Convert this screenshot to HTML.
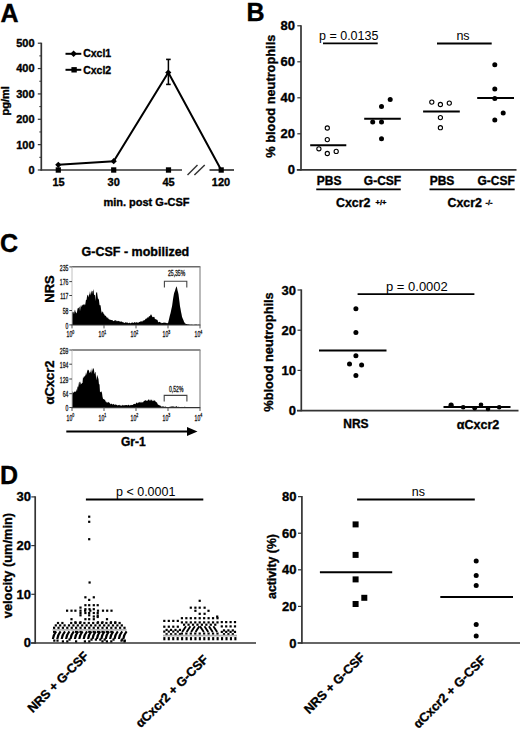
<!DOCTYPE html>
<html><head><meta charset="utf-8"><style>
html,body{margin:0;padding:0;background:#fff;}
body{width:520px;height:730px;overflow:hidden;}
svg{display:block;font-family:"Liberation Sans", sans-serif;}
</style></head><body>
<svg width="520" height="730" viewBox="0 0 520 730">
<rect width="520" height="730" fill="#fff"/>
<text x="0.50" y="22.20" font-size="25" font-weight="bold" text-anchor="start" fill="#000" stroke="#000" stroke-width="0.35" >A</text>
<line x1="41.30" y1="42.70" x2="41.30" y2="170.60" stroke="#333" stroke-width="1.7"/>
<line x1="37.80" y1="170.00" x2="41.30" y2="170.00" stroke="#333" stroke-width="1.2"/>
<text x="34.60" y="173.90" font-size="11" font-weight="bold" text-anchor="end" fill="#000" stroke="#000" stroke-width="0.35" >0</text>
<line x1="37.80" y1="144.64" x2="41.30" y2="144.64" stroke="#333" stroke-width="1.2"/>
<text x="34.60" y="148.54" font-size="11" font-weight="bold" text-anchor="end" fill="#000" stroke="#000" stroke-width="0.35" >100</text>
<line x1="37.80" y1="119.28" x2="41.30" y2="119.28" stroke="#333" stroke-width="1.2"/>
<text x="34.60" y="123.18" font-size="11" font-weight="bold" text-anchor="end" fill="#000" stroke="#000" stroke-width="0.35" >200</text>
<line x1="37.80" y1="93.92" x2="41.30" y2="93.92" stroke="#333" stroke-width="1.2"/>
<text x="34.60" y="97.82" font-size="11" font-weight="bold" text-anchor="end" fill="#000" stroke="#000" stroke-width="0.35" >300</text>
<line x1="37.80" y1="68.56" x2="41.30" y2="68.56" stroke="#333" stroke-width="1.2"/>
<text x="34.60" y="72.46" font-size="11" font-weight="bold" text-anchor="end" fill="#000" stroke="#000" stroke-width="0.35" >400</text>
<line x1="37.80" y1="43.20" x2="41.30" y2="43.20" stroke="#333" stroke-width="1.2"/>
<text x="34.60" y="47.10" font-size="11" font-weight="bold" text-anchor="end" fill="#000" stroke="#000" stroke-width="0.35" >500</text>
<line x1="39.30" y1="157.32" x2="41.30" y2="157.32" stroke="#333" stroke-width="1.0"/>
<line x1="39.30" y1="131.96" x2="41.30" y2="131.96" stroke="#333" stroke-width="1.0"/>
<line x1="39.30" y1="106.60" x2="41.30" y2="106.60" stroke="#333" stroke-width="1.0"/>
<line x1="39.30" y1="81.24" x2="41.30" y2="81.24" stroke="#333" stroke-width="1.0"/>
<line x1="39.30" y1="55.88" x2="41.30" y2="55.88" stroke="#333" stroke-width="1.0"/>
<line x1="40.60" y1="170.00" x2="182.00" y2="170.00" stroke="#333" stroke-width="1.7"/>
<line x1="209.50" y1="170.00" x2="234.00" y2="170.00" stroke="#333" stroke-width="1.7"/>
<line x1="187.50" y1="175.00" x2="197.50" y2="165.00" stroke="#333" stroke-width="1.5"/>
<line x1="194.40" y1="175.00" x2="204.75" y2="165.00" stroke="#333" stroke-width="1.5"/>
<text x="58.50" y="185.80" font-size="11" font-weight="bold" text-anchor="middle" fill="#000" stroke="#000" stroke-width="0.35" >15</text>
<text x="113.70" y="185.80" font-size="11" font-weight="bold" text-anchor="middle" fill="#000" stroke="#000" stroke-width="0.35" >30</text>
<text x="168.50" y="185.80" font-size="11" font-weight="bold" text-anchor="middle" fill="#000" stroke="#000" stroke-width="0.35" >45</text>
<text x="221.00" y="185.80" font-size="11" font-weight="bold" text-anchor="middle" fill="#000" stroke="#000" stroke-width="0.35" >120</text>
<text x="103.40" y="205.80" font-size="11" font-weight="bold" text-anchor="start" fill="#000" stroke="#000" stroke-width="0.35" >min. post G-CSF</text>
<text transform="translate(8.90,100.80) rotate(-90)" font-size="11" font-weight="bold" text-anchor="middle" stroke="#000" stroke-width="0.35" >pg/ml</text>
<polyline points="58.3,164.8 113.7,161.2 168.3,72.5 221.2,170" fill="none" stroke="#000" stroke-width="2"/>
<line x1="168.40" y1="59.40" x2="168.40" y2="84.40" stroke="#000" stroke-width="1.5"/>
<line x1="166.10" y1="59.40" x2="170.70" y2="59.40" stroke="#000" stroke-width="1.6"/>
<line x1="166.10" y1="84.40" x2="170.70" y2="84.40" stroke="#000" stroke-width="1.6"/>
<polygon points="58.3,161.70000000000002 61.4,164.8 58.3,167.9 55.199999999999996,164.8" fill="#000"/>
<polygon points="113.7,158.1 116.8,161.2 113.7,164.29999999999998 110.60000000000001,161.2" fill="#000"/>
<polygon points="168.3,69.4 171.4,72.5 168.3,75.6 165.20000000000002,72.5" fill="#000"/>
<rect x="55.70" y="167.30" width="5.20" height="5.40" fill="#000"/>
<rect x="111.10" y="167.30" width="5.20" height="5.40" fill="#000"/>
<rect x="165.90" y="167.30" width="5.20" height="5.40" fill="#000"/>
<rect x="218.60" y="167.30" width="5.20" height="5.40" fill="#000"/>
<line x1="65.50" y1="53.80" x2="81.30" y2="53.80" stroke="#000" stroke-width="2"/>
<polygon points="73.6,50.5 76.89999999999999,53.8 73.6,57.099999999999994 70.3,53.8" fill="#000"/>
<text x="83.20" y="57.30" font-size="10.5" font-weight="bold" text-anchor="start" fill="#000" stroke="#000" stroke-width="0.35" >Cxcl1</text>
<line x1="65.50" y1="69.80" x2="81.30" y2="69.80" stroke="#000" stroke-width="2"/>
<rect x="71.40" y="67.10" width="5.40" height="5.40" fill="#000"/>
<text x="83.20" y="74.20" font-size="10.5" font-weight="bold" text-anchor="start" fill="#000" stroke="#000" stroke-width="0.35" >Cxcl2</text>
<text x="246.50" y="20.80" font-size="25" font-weight="bold" text-anchor="start" fill="#000" stroke="#000" stroke-width="0.35" >B</text>
<line x1="301.00" y1="25.20" x2="301.00" y2="170.50" stroke="#333" stroke-width="1.7"/>
<line x1="296.80" y1="169.80" x2="516.50" y2="169.80" stroke="#333" stroke-width="1.7"/>
<line x1="297.30" y1="169.80" x2="301.00" y2="169.80" stroke="#333" stroke-width="1.2"/>
<text x="295.00" y="174.40" font-size="13" font-weight="bold" text-anchor="end" fill="#000" stroke="#000" stroke-width="0.35" >0</text>
<line x1="297.30" y1="133.80" x2="301.00" y2="133.80" stroke="#333" stroke-width="1.2"/>
<text x="295.00" y="138.40" font-size="13" font-weight="bold" text-anchor="end" fill="#000" stroke="#000" stroke-width="0.35" >20</text>
<line x1="297.30" y1="97.80" x2="301.00" y2="97.80" stroke="#333" stroke-width="1.2"/>
<text x="295.00" y="102.40" font-size="13" font-weight="bold" text-anchor="end" fill="#000" stroke="#000" stroke-width="0.35" >40</text>
<line x1="297.30" y1="61.80" x2="301.00" y2="61.80" stroke="#333" stroke-width="1.2"/>
<text x="295.00" y="66.40" font-size="13" font-weight="bold" text-anchor="end" fill="#000" stroke="#000" stroke-width="0.35" >60</text>
<line x1="297.30" y1="25.80" x2="301.00" y2="25.80" stroke="#333" stroke-width="1.2"/>
<text x="295.00" y="30.40" font-size="13" font-weight="bold" text-anchor="end" fill="#000" stroke="#000" stroke-width="0.35" >80</text>
<text transform="translate(274.90,96.20) rotate(-90)" font-size="12.8" font-weight="bold" text-anchor="middle" stroke="#000" stroke-width="0.35" >% blood neutrophils</text>
<circle cx="327.30" cy="128.00" r="2.1" fill="#fff" stroke="#000" stroke-width="1.1"/>
<circle cx="327.30" cy="139.60" r="2.1" fill="#fff" stroke="#000" stroke-width="1.1"/>
<circle cx="318.90" cy="148.80" r="2.1" fill="#fff" stroke="#000" stroke-width="1.1"/>
<circle cx="327.30" cy="153.50" r="2.1" fill="#fff" stroke="#000" stroke-width="1.1"/>
<circle cx="336.20" cy="151.40" r="2.1" fill="#fff" stroke="#000" stroke-width="1.1"/>
<line x1="310.20" y1="145.20" x2="346.30" y2="145.20" stroke="#000" stroke-width="2"/>
<circle cx="390.20" cy="99.40" r="2.5" fill="#000" stroke="none" stroke-width="0"/>
<circle cx="381.50" cy="106.50" r="2.5" fill="#000" stroke="none" stroke-width="0"/>
<circle cx="372.70" cy="122.10" r="2.5" fill="#000" stroke="none" stroke-width="0"/>
<circle cx="381.50" cy="122.10" r="2.5" fill="#000" stroke="none" stroke-width="0"/>
<circle cx="381.50" cy="138.80" r="2.5" fill="#000" stroke="none" stroke-width="0"/>
<line x1="364.20" y1="118.80" x2="400.80" y2="118.80" stroke="#000" stroke-width="2"/>
<circle cx="431.80" cy="102.10" r="2.1" fill="#fff" stroke="#000" stroke-width="1.1"/>
<circle cx="440.40" cy="104.50" r="2.1" fill="#fff" stroke="#000" stroke-width="1.1"/>
<circle cx="449.30" cy="103.10" r="2.1" fill="#fff" stroke="#000" stroke-width="1.1"/>
<circle cx="440.40" cy="117.60" r="2.1" fill="#fff" stroke="#000" stroke-width="1.1"/>
<circle cx="440.40" cy="127.70" r="2.1" fill="#fff" stroke="#000" stroke-width="1.1"/>
<line x1="423.10" y1="111.60" x2="459.80" y2="111.60" stroke="#000" stroke-width="2"/>
<circle cx="494.80" cy="64.70" r="2.5" fill="#000" stroke="none" stroke-width="0"/>
<circle cx="494.80" cy="89.00" r="2.5" fill="#000" stroke="none" stroke-width="0"/>
<circle cx="494.80" cy="98.50" r="2.5" fill="#000" stroke="none" stroke-width="0"/>
<circle cx="503.20" cy="113.00" r="2.5" fill="#000" stroke="none" stroke-width="0"/>
<circle cx="494.80" cy="120.00" r="2.5" fill="#000" stroke="none" stroke-width="0"/>
<line x1="477.20" y1="98.10" x2="514.00" y2="98.10" stroke="#000" stroke-width="2"/>
<text x="319.00" y="40.00" font-size="12.5" font-weight="normal" text-anchor="start" fill="#000" >p = 0.0135</text>
<line x1="323.00" y1="43.40" x2="377.70" y2="43.40" stroke="#000" stroke-width="1.8"/>
<text x="463.00" y="40.20" font-size="12.5" font-weight="normal" text-anchor="middle" fill="#000" >ns</text>
<line x1="437.00" y1="43.50" x2="491.70" y2="43.50" stroke="#000" stroke-width="1.8"/>
<text x="329.10" y="185.00" font-size="12" font-weight="bold" text-anchor="middle" fill="#000" stroke="#000" stroke-width="0.35" >PBS</text>
<text x="382.50" y="185.00" font-size="12" font-weight="bold" text-anchor="middle" fill="#000" stroke="#000" stroke-width="0.35" >G-CSF</text>
<line x1="316.25" y1="189.30" x2="400.75" y2="189.30" stroke="#000" stroke-width="1.8"/>
<text x="336.00" y="207.10" font-size="12.4" font-weight="bold" text-anchor="start" fill="#000" stroke="#000" stroke-width="0.35" >Cxcr2</text>
<text x="375.60" y="204.60" font-size="7.5" font-weight="bold" text-anchor="start" fill="#000" stroke="#000" stroke-width="0.35" >+/+</text>
<text x="442.00" y="185.00" font-size="12" font-weight="bold" text-anchor="middle" fill="#000" stroke="#000" stroke-width="0.35" >PBS</text>
<text x="496.10" y="185.00" font-size="12" font-weight="bold" text-anchor="middle" fill="#000" stroke="#000" stroke-width="0.35" >G-CSF</text>
<line x1="429.50" y1="189.30" x2="514.70" y2="189.30" stroke="#000" stroke-width="1.8"/>
<text x="447.50" y="207.10" font-size="12.4" font-weight="bold" text-anchor="start" fill="#000" stroke="#000" stroke-width="0.35" >Cxcr2</text>
<text x="485.40" y="204.60" font-size="7.5" font-weight="bold" text-anchor="start" fill="#000" stroke="#000" stroke-width="0.35" >-/-</text>
<text x="0.00" y="251.90" font-size="25" font-weight="bold" text-anchor="start" fill="#000" stroke="#000" stroke-width="0.35" >C</text>
<text x="81.60" y="255.50" font-size="12.5" font-weight="bold" text-anchor="start" fill="#000" stroke="#000" stroke-width="0.35" >G-CSF - mobilized</text>
<path d="M72,325L72.00,311.26L72.50,312.78L73.00,311.74L73.50,311.92L74.00,314.31L74.50,310.96L75.00,309.62L75.50,311.76L76.00,312.40L76.50,313.55L77.00,311.98L77.50,309.09L78.00,307.81L78.50,308.52L79.00,307.17L79.50,306.51L80.00,311.14L80.50,306.90L81.00,305.08L81.50,307.25L82.00,304.79L82.50,305.87L83.00,304.30L83.50,304.90L84.00,303.94L84.50,304.43L85.00,305.39L85.50,303.01L86.00,299.51L86.50,300.21L87.00,296.45L87.50,295.05L88.00,294.71L88.50,297.47L89.00,294.96L89.50,293.92L90.00,291.01L90.50,295.46L91.00,292.45L91.50,290.20L92.00,294.26L92.50,290.84L93.00,291.28L93.50,288.90L94.00,294.74L94.50,295.15L95.00,294.49L95.50,300.98L96.00,293.59L96.50,292.61L97.00,291.82L97.50,295.78L98.00,299.03L98.50,298.47L99.00,300.43L99.50,304.63L100.00,305.50L100.50,304.98L101.00,308.83L101.50,313.62L102.00,310.81L102.50,312.60L103.00,311.76L103.50,313.70L104.00,313.75L104.50,314.90L105.00,315.64L105.50,315.86L106.00,315.85L106.50,317.77L107.00,316.76L107.50,318.38L108.00,317.26L108.50,318.99L109.00,319.36L109.50,319.25L110.00,320.16L110.50,319.55L111.00,319.94L111.50,320.00L112.00,320.26L112.50,319.91L113.00,320.98L113.50,321.00L114.00,321.18L114.50,320.44L115.00,319.88L115.50,319.98L116.00,321.41L116.50,320.30L117.00,321.53L117.50,320.90L118.00,320.72L118.50,321.25L119.00,320.70L119.50,321.50L120.00,321.40L120.50,322.03L121.00,321.02L121.50,321.57L122.00,322.29L122.50,321.69L123.00,322.61L123.50,322.13L124.00,322.64L124.50,323.05L125.00,322.78L125.50,322.16L126.00,322.25L126.50,322.76L127.00,322.53L127.50,322.48L128.00,322.89L128.50,323.26L129.00,322.92L129.50,322.38L130.00,323.36L130.50,323.36L131.00,323.09L131.50,322.78L132.00,322.56L132.50,322.56L133.00,322.86L133.50,322.69L134.00,323.03L134.50,322.08L135.00,322.12L135.50,323.02L136.00,322.20L136.50,322.38L137.00,322.02L137.50,322.66L138.00,322.77L138.50,322.76L139.00,321.81L139.50,321.95L140.00,322.08L140.50,321.14L141.00,321.42L141.50,321.53L142.00,320.91L142.50,321.85L143.00,320.31L143.50,320.74L144.00,320.32L144.50,320.20L145.00,319.69L145.50,318.88L146.00,318.61L146.50,318.49L147.00,318.44L147.50,317.54L148.00,316.98L148.50,317.64L149.00,316.07L149.50,316.35L150.00,316.21L150.50,314.66L151.00,314.51L151.50,314.77L152.00,316.30L152.50,316.89L153.00,317.28L153.50,317.00L154.00,316.65L154.50,317.37L155.00,319.39L155.50,318.68L156.00,319.52L156.50,319.58L157.00,319.78L157.50,320.06L158.00,321.74L158.50,322.13L159.00,322.32L159.50,321.76L160.00,321.91L160.50,322.70L161.00,322.16L161.50,323.19L162.00,323.05L162.50,322.95L163.00,322.82L163.50,322.47L164.00,322.91L164.50,322.51L165.00,322.59L165.50,322.76L166.00,323.01L166.50,323.17L167.00,322.84L167.50,323.17L168.00,323.16L168.50,321.30L169.00,319.13L169.50,316.92L170.00,315.04L170.50,313.17L171.00,310.92L171.50,308.49L172.00,306.38L172.50,302.93L173.00,299.29L173.50,296.23L174.00,293.54L174.50,292.01L175.00,290.73L175.50,289.07L176.00,287.41L176.50,286.14L177.00,287.81L177.50,290.18L178.00,292.03L178.50,294.14L179.00,298.26L179.50,302.02L180.00,306.16L180.50,308.78L181.00,311.71L181.50,314.12L182.00,316.75L182.50,318.10L183.00,319.24L183.50,320.28L184.00,321.75L184.50,322.38L185.00,323.48L185.50,323.61L186.00,324.07L186.50,323.92L187.00,324.01L187.50,324.41L188.00,324.22L188.50,324.48L189.00,324.55L189.50,324.66L190.00,324.79L190.50,324.66L191.00,324.95L191.50,324.72L192.00,324.50L192.50,324.96L193.00,324.93L193.50,325.00L194.00,325.00L194.50,324.78L195.00,324.64L195.50,324.70L196.00,324.43L196.50,324.82L197.00,324.80L197.50,325.00L198.00,325.00L198.50,324.70L199.00,324.78L199.50,325.00L200.00,325.00L200,325Z" fill="#000"/>
<line x1="72.00" y1="266.80" x2="200.40" y2="266.80" stroke="#6a6a6a" stroke-width="1.5"/>
<line x1="200.00" y1="266.80" x2="200.00" y2="325.00" stroke="#8a8a8a" stroke-width="1.2"/>
<line x1="72.00" y1="266.80" x2="72.00" y2="325.00" stroke="#c0c0c0" stroke-width="1.0"/>
<line x1="71.50" y1="325.00" x2="200.40" y2="325.00" stroke="#333" stroke-width="1.2"/>
<text transform="translate(68.30,270.50) scale(0.59,1)" font-size="8.6" text-anchor="end" fill="#1a1a1a" stroke="#1a1a1a" stroke-width="0.35">235</text>
<line x1="69.30" y1="266.90" x2="72.00" y2="266.90" stroke="#444" stroke-width="1.0"/>
<text transform="translate(68.30,285.20) scale(0.59,1)" font-size="8.6" text-anchor="end" fill="#1a1a1a" stroke="#1a1a1a" stroke-width="0.35">176</text>
<line x1="69.30" y1="281.60" x2="72.00" y2="281.60" stroke="#444" stroke-width="1.0"/>
<text transform="translate(68.30,299.10) scale(0.59,1)" font-size="8.6" text-anchor="end" fill="#1a1a1a" stroke="#1a1a1a" stroke-width="0.35">117</text>
<line x1="69.30" y1="295.50" x2="72.00" y2="295.50" stroke="#444" stroke-width="1.0"/>
<text transform="translate(68.30,314.10) scale(0.59,1)" font-size="8.6" text-anchor="end" fill="#1a1a1a" stroke="#1a1a1a" stroke-width="0.35">58</text>
<line x1="69.30" y1="310.50" x2="72.00" y2="310.50" stroke="#444" stroke-width="1.0"/>
<text transform="translate(68.30,328.50) scale(0.59,1)" font-size="8.6" text-anchor="end" fill="#1a1a1a" stroke="#1a1a1a" stroke-width="0.35">0</text>
<line x1="69.30" y1="324.90" x2="72.00" y2="324.90" stroke="#444" stroke-width="1.0"/>
<line x1="72.00" y1="325.00" x2="72.00" y2="328.40" stroke="#555" stroke-width="1.0"/>
<text transform="translate(70.40,337.40) scale(0.59,1)" font-size="8.6" text-anchor="middle" fill="#1a1a1a" stroke="#1a1a1a" stroke-width="0.35">10<tspan font-size="6" dy="-3.6">0</tspan></text>
<line x1="104.00" y1="325.00" x2="104.00" y2="328.40" stroke="#555" stroke-width="1.0"/>
<text transform="translate(102.40,337.40) scale(0.59,1)" font-size="8.6" text-anchor="middle" fill="#1a1a1a" stroke="#1a1a1a" stroke-width="0.35">10<tspan font-size="6" dy="-3.6">1</tspan></text>
<line x1="136.00" y1="325.00" x2="136.00" y2="328.40" stroke="#555" stroke-width="1.0"/>
<text transform="translate(134.40,337.40) scale(0.59,1)" font-size="8.6" text-anchor="middle" fill="#1a1a1a" stroke="#1a1a1a" stroke-width="0.35">10<tspan font-size="6" dy="-3.6">2</tspan></text>
<line x1="168.00" y1="325.00" x2="168.00" y2="328.40" stroke="#555" stroke-width="1.0"/>
<text transform="translate(166.40,337.40) scale(0.59,1)" font-size="8.6" text-anchor="middle" fill="#1a1a1a" stroke="#1a1a1a" stroke-width="0.35">10<tspan font-size="6" dy="-3.6">3</tspan></text>
<line x1="200.00" y1="325.00" x2="200.00" y2="328.40" stroke="#555" stroke-width="1.0"/>
<text transform="translate(198.40,337.40) scale(0.59,1)" font-size="8.6" text-anchor="middle" fill="#1a1a1a" stroke="#1a1a1a" stroke-width="0.35">10<tspan font-size="6" dy="-3.6">4</tspan></text>
<polyline points="164.4,287.6 164.4,281.2 186.8,281.2 186.8,287.6" fill="none" stroke="#444" stroke-width="1.1"/>
<text transform="translate(176.60,275.70) scale(0.59,1)" font-size="8.6" text-anchor="middle" fill="#1a1a1a" stroke="#1a1a1a" stroke-width="0.35">25,35%</text>
<text transform="translate(53.90,289.00) rotate(-90)" font-size="13" font-weight="bold" text-anchor="middle" stroke="#000" stroke-width="0.35" >NRS</text>
<path d="M72,407.6L72.00,393.78L72.50,390.70L73.00,393.11L73.50,392.42L74.00,392.07L74.50,391.84L75.00,391.18L75.50,391.85L76.00,391.63L76.50,388.73L77.00,391.21L77.50,386.08L78.00,387.65L78.50,385.40L79.00,382.12L79.50,381.84L80.00,385.50L80.50,381.27L81.00,383.85L81.50,384.03L82.00,383.11L82.50,382.88L83.00,377.07L83.50,378.61L84.00,376.08L84.50,377.00L85.00,375.43L85.50,375.41L86.00,372.36L86.50,374.96L87.00,371.78L87.50,370.35L88.00,369.42L88.50,370.21L89.00,370.59L89.50,373.29L90.00,372.17L90.50,372.37L91.00,369.37L91.50,373.70L92.00,367.43L92.50,371.85L93.00,368.62L93.50,368.13L94.00,369.94L94.50,374.25L95.00,372.45L95.50,371.73L96.00,376.68L96.50,380.35L97.00,374.64L97.50,375.91L98.00,377.40L98.50,379.18L99.00,384.76L99.50,383.83L100.00,392.23L100.50,391.88L101.00,391.40L101.50,391.44L102.00,392.98L102.50,396.73L103.00,398.66L103.50,399.15L104.00,398.88L104.50,399.90L105.00,399.39L105.50,401.51L106.00,401.58L106.50,401.92L107.00,402.91L107.50,402.56L108.00,401.86L108.50,402.31L109.00,402.41L109.50,402.76L110.00,403.62L110.50,404.43L111.00,403.54L111.50,403.67L112.00,404.28L112.50,404.49L113.00,404.20L113.50,403.75L114.00,404.38L114.50,404.88L115.00,404.19L115.50,404.45L116.00,404.91L116.50,404.75L117.00,404.73L117.50,405.68L118.00,405.07L118.50,405.28L119.00,405.12L119.50,404.87L120.00,405.63L120.50,405.33L121.00,405.46L121.50,405.92L122.00,404.84L122.50,404.96L123.00,405.84L123.50,404.93L124.00,405.39L124.50,405.13L125.00,404.94L125.50,405.25L126.00,404.88L126.50,404.98L127.00,405.19L127.50,405.58L128.00,404.81L128.50,404.73L129.00,405.36L129.50,405.39L130.00,405.33L130.50,405.37L131.00,404.80L131.50,405.18L132.00,404.68L132.50,405.07L133.00,404.89L133.50,403.88L134.00,403.98L134.50,403.73L135.00,404.27L135.50,403.97L136.00,403.13L136.50,402.65L137.00,402.36L137.50,403.47L138.00,402.93L138.50,402.20L139.00,402.72L139.50,402.27L140.00,401.65L140.50,402.97L141.00,401.47L141.50,402.44L142.00,402.67L142.50,402.10L143.00,402.38L143.50,401.38L144.00,400.89L144.50,400.93L145.00,399.88L145.50,400.35L146.00,400.68L146.50,400.56L147.00,400.96L147.50,400.42L148.00,400.34L148.50,399.31L149.00,399.74L149.50,400.96L150.00,399.09L150.50,400.56L151.00,400.50L151.50,399.30L152.00,400.75L152.50,401.14L153.00,399.62L153.50,400.97L154.00,400.97L154.50,400.30L155.00,400.59L155.50,401.51L156.00,402.11L156.50,402.15L157.00,402.61L157.50,403.85L158.00,404.71L158.50,404.78L159.00,404.90L159.50,405.40L160.00,405.24L160.50,405.66L161.00,406.59L161.50,406.54L162.00,406.78L162.50,406.16L163.00,406.52L163.50,406.14L164.00,407.12L164.50,406.77L165.00,406.75L165.50,406.62L166.00,406.78L166.50,407.18L167.00,407.10L167.50,406.94L168.00,406.94L168.50,407.12L169.00,406.92L169.50,406.83L170.00,407.08L170.50,406.59L171.00,406.70L171.50,406.50L172.00,406.31L172.50,406.54L173.00,406.45L173.50,406.55L174.00,406.50L174.50,406.91L175.00,406.44L175.50,406.97L176.00,406.22L176.50,406.35L177.00,406.58L177.50,407.03L178.00,407.09L178.50,406.76L179.00,406.76L179.50,407.34L180.00,407.17L180.50,407.23L181.00,407.35L181.50,407.26L182.00,406.86L182.50,407.21L183.00,406.98L183.50,407.49L184.00,407.08L184.50,406.84L185.00,406.80L185.50,407.01L186.00,407.51L186.50,407.39L187.00,407.21L187.50,407.48L188.00,407.01L188.50,406.91L189.00,407.59L189.50,406.93L190.00,407.04L190.50,407.05L191.00,407.06L191.50,407.38L192.00,407.19L192.50,406.94L193.00,407.60L193.50,407.57L194.00,407.37L194.50,407.23L195.00,407.47L195.50,407.60L196.00,407.38L196.50,407.26L197.00,407.51L197.50,407.47L198.00,407.60L198.50,407.43L199.00,407.50L199.50,407.17L200.00,407.20L200,407.6Z" fill="#000"/>
<line x1="72.00" y1="350.00" x2="200.40" y2="350.00" stroke="#6a6a6a" stroke-width="1.5"/>
<line x1="200.00" y1="350.00" x2="200.00" y2="407.60" stroke="#8a8a8a" stroke-width="1.2"/>
<line x1="72.00" y1="350.00" x2="72.00" y2="407.60" stroke="#c0c0c0" stroke-width="1.0"/>
<line x1="71.50" y1="407.60" x2="200.40" y2="407.60" stroke="#333" stroke-width="1.2"/>
<text transform="translate(68.30,353.60) scale(0.59,1)" font-size="8.6" text-anchor="end" fill="#1a1a1a" stroke="#1a1a1a" stroke-width="0.35">259</text>
<line x1="69.30" y1="350.00" x2="72.00" y2="350.00" stroke="#444" stroke-width="1.0"/>
<text transform="translate(68.30,367.80) scale(0.59,1)" font-size="8.6" text-anchor="end" fill="#1a1a1a" stroke="#1a1a1a" stroke-width="0.35">194</text>
<line x1="69.30" y1="364.20" x2="72.00" y2="364.20" stroke="#444" stroke-width="1.0"/>
<text transform="translate(68.30,382.60) scale(0.59,1)" font-size="8.6" text-anchor="end" fill="#1a1a1a" stroke="#1a1a1a" stroke-width="0.35">129</text>
<line x1="69.30" y1="379.00" x2="72.00" y2="379.00" stroke="#444" stroke-width="1.0"/>
<text transform="translate(68.30,397.30) scale(0.59,1)" font-size="8.6" text-anchor="end" fill="#1a1a1a" stroke="#1a1a1a" stroke-width="0.35">64</text>
<line x1="69.30" y1="393.70" x2="72.00" y2="393.70" stroke="#444" stroke-width="1.0"/>
<text transform="translate(68.30,411.10) scale(0.59,1)" font-size="8.6" text-anchor="end" fill="#1a1a1a" stroke="#1a1a1a" stroke-width="0.35">0</text>
<line x1="69.30" y1="407.50" x2="72.00" y2="407.50" stroke="#444" stroke-width="1.0"/>
<line x1="72.00" y1="407.60" x2="72.00" y2="411.00" stroke="#555" stroke-width="1.0"/>
<text transform="translate(70.40,420.80) scale(0.59,1)" font-size="8.6" text-anchor="middle" fill="#1a1a1a" stroke="#1a1a1a" stroke-width="0.35">10<tspan font-size="6" dy="-3.6">0</tspan></text>
<line x1="104.00" y1="407.60" x2="104.00" y2="411.00" stroke="#555" stroke-width="1.0"/>
<text transform="translate(102.40,420.80) scale(0.59,1)" font-size="8.6" text-anchor="middle" fill="#1a1a1a" stroke="#1a1a1a" stroke-width="0.35">10<tspan font-size="6" dy="-3.6">1</tspan></text>
<line x1="136.00" y1="407.60" x2="136.00" y2="411.00" stroke="#555" stroke-width="1.0"/>
<text transform="translate(134.40,420.80) scale(0.59,1)" font-size="8.6" text-anchor="middle" fill="#1a1a1a" stroke="#1a1a1a" stroke-width="0.35">10<tspan font-size="6" dy="-3.6">2</tspan></text>
<line x1="168.00" y1="407.60" x2="168.00" y2="411.00" stroke="#555" stroke-width="1.0"/>
<text transform="translate(166.40,420.80) scale(0.59,1)" font-size="8.6" text-anchor="middle" fill="#1a1a1a" stroke="#1a1a1a" stroke-width="0.35">10<tspan font-size="6" dy="-3.6">3</tspan></text>
<line x1="200.00" y1="407.60" x2="200.00" y2="411.00" stroke="#555" stroke-width="1.0"/>
<text transform="translate(198.40,420.80) scale(0.59,1)" font-size="8.6" text-anchor="middle" fill="#1a1a1a" stroke="#1a1a1a" stroke-width="0.35">10<tspan font-size="6" dy="-3.6">4</tspan></text>
<polyline points="164.2,401.5 164.2,395.4 186.9,395.4 186.9,401.5" fill="none" stroke="#444" stroke-width="1.1"/>
<text transform="translate(176.20,391.60) scale(0.59,1)" font-size="8.6" text-anchor="middle" fill="#1a1a1a" stroke="#1a1a1a" stroke-width="0.35">0,52%</text>
<text transform="translate(53.60,382.50) rotate(-90)" font-size="13" font-weight="bold" text-anchor="middle" stroke="#000" stroke-width="0.35" >&#945;Cxcr2</text>
<line x1="66.30" y1="431.50" x2="188.00" y2="431.50" stroke="#000" stroke-width="2"/>
<polygon points="187,427 197.5,431.5 187,436" fill="#000"/>
<text x="121.00" y="446.00" font-size="12" font-weight="bold" text-anchor="start" fill="#000" stroke="#000" stroke-width="0.35" >Gr-1</text>
<line x1="301.30" y1="289.40" x2="301.30" y2="411.30" stroke="#333" stroke-width="1.7"/>
<line x1="297.00" y1="410.60" x2="518.50" y2="410.60" stroke="#333" stroke-width="1.7"/>
<line x1="297.50" y1="410.60" x2="301.30" y2="410.60" stroke="#333" stroke-width="1.2"/>
<text x="296.00" y="415.20" font-size="13" font-weight="bold" text-anchor="end" fill="#000" stroke="#000" stroke-width="0.35" >0</text>
<line x1="297.50" y1="370.40" x2="301.30" y2="370.40" stroke="#333" stroke-width="1.2"/>
<text x="296.00" y="375.00" font-size="13" font-weight="bold" text-anchor="end" fill="#000" stroke="#000" stroke-width="0.35" >10</text>
<line x1="297.50" y1="330.20" x2="301.30" y2="330.20" stroke="#333" stroke-width="1.2"/>
<text x="296.00" y="334.80" font-size="13" font-weight="bold" text-anchor="end" fill="#000" stroke="#000" stroke-width="0.35" >20</text>
<line x1="297.50" y1="290.00" x2="301.30" y2="290.00" stroke="#333" stroke-width="1.2"/>
<text x="296.00" y="294.60" font-size="13" font-weight="bold" text-anchor="end" fill="#000" stroke="#000" stroke-width="0.35" >30</text>
<text transform="translate(273.30,352.00) rotate(-90)" font-size="12.8" font-weight="bold" text-anchor="middle" stroke="#000" stroke-width="0.35" >%blood neutrophils</text>
<circle cx="355.90" cy="308.70" r="2.5" fill="#000" stroke="none" stroke-width="0"/>
<circle cx="355.90" cy="332.40" r="2.5" fill="#000" stroke="none" stroke-width="0"/>
<circle cx="355.90" cy="355.70" r="2.5" fill="#000" stroke="none" stroke-width="0"/>
<circle cx="349.50" cy="364.00" r="2.5" fill="#000" stroke="none" stroke-width="0"/>
<circle cx="361.60" cy="365.10" r="2.5" fill="#000" stroke="none" stroke-width="0"/>
<circle cx="355.90" cy="375.60" r="2.5" fill="#000" stroke="none" stroke-width="0"/>
<line x1="319.00" y1="350.50" x2="386.50" y2="350.50" stroke="#000" stroke-width="2"/>
<circle cx="451.10" cy="405.20" r="2.6" fill="#000" stroke="none" stroke-width="0"/>
<circle cx="463.20" cy="407.30" r="2.3" fill="#000" stroke="none" stroke-width="0"/>
<circle cx="474.70" cy="408.20" r="2.3" fill="#000" stroke="none" stroke-width="0"/>
<circle cx="481.00" cy="404.70" r="2.3" fill="#000" stroke="none" stroke-width="0"/>
<circle cx="488.00" cy="409.00" r="2.3" fill="#000" stroke="none" stroke-width="0"/>
<circle cx="499.20" cy="407.30" r="2.3" fill="#000" stroke="none" stroke-width="0"/>
<line x1="443.50" y1="407.00" x2="510.50" y2="407.00" stroke="#000" stroke-width="1.8"/>
<text x="386.00" y="290.60" font-size="13" font-weight="normal" text-anchor="start" fill="#000" >p = 0.0002</text>
<line x1="357.60" y1="294.10" x2="474.40" y2="294.10" stroke="#000" stroke-width="1.8"/>
<text x="355.90" y="428.40" font-size="12" font-weight="bold" text-anchor="middle" fill="#000" stroke="#000" stroke-width="0.35" >NRS</text>
<text x="478.00" y="428.60" font-size="12.5" font-weight="bold" text-anchor="middle" fill="#000" stroke="#000" stroke-width="0.35" >&#945;Cxcr2</text>
<text x="0.00" y="483.90" font-size="25" font-weight="bold" text-anchor="start" fill="#000" stroke="#000" stroke-width="0.35" >D</text>
<line x1="35.20" y1="496.30" x2="35.20" y2="643.70" stroke="#333" stroke-width="1.7"/>
<line x1="31.00" y1="643.00" x2="256.00" y2="643.00" stroke="#333" stroke-width="1.7"/>
<line x1="31.30" y1="643.00" x2="35.20" y2="643.00" stroke="#333" stroke-width="1.2"/>
<text x="30.90" y="647.40" font-size="13" font-weight="bold" text-anchor="end" fill="#000" stroke="#000" stroke-width="0.35" >0</text>
<line x1="31.30" y1="594.30" x2="35.20" y2="594.30" stroke="#333" stroke-width="1.2"/>
<text x="30.90" y="598.70" font-size="13" font-weight="bold" text-anchor="end" fill="#000" stroke="#000" stroke-width="0.35" >10</text>
<line x1="31.30" y1="545.60" x2="35.20" y2="545.60" stroke="#333" stroke-width="1.2"/>
<text x="30.90" y="550.00" font-size="13" font-weight="bold" text-anchor="end" fill="#000" stroke="#000" stroke-width="0.35" >20</text>
<line x1="31.30" y1="496.90" x2="35.20" y2="496.90" stroke="#333" stroke-width="1.2"/>
<text x="30.90" y="501.30" font-size="13" font-weight="bold" text-anchor="end" fill="#000" stroke="#000" stroke-width="0.35" >30</text>
<text transform="translate(11.80,565.60) rotate(-90)" font-size="12.8" font-weight="bold" text-anchor="middle" stroke="#000" stroke-width="0.35" >velocity (um/min)</text>
<text x="116.00" y="495.70" font-size="12.5" font-weight="normal" text-anchor="start" fill="#000" >p &lt; 0.0001</text>
<line x1="85.90" y1="499.50" x2="203.30" y2="499.50" stroke="#000" stroke-width="1.8"/>
<rect x="56.90" y="621.90" width="2.2" height="2.2" fill="#000"/>
<rect x="61.30" y="621.90" width="2.2" height="2.2" fill="#000"/>
<rect x="70.10" y="621.90" width="2.2" height="2.2" fill="#000"/>
<rect x="74.50" y="621.90" width="2.2" height="2.2" fill="#000"/>
<rect x="78.90" y="621.90" width="2.2" height="2.2" fill="#000"/>
<rect x="83.30" y="621.90" width="2.2" height="2.2" fill="#000"/>
<rect x="87.70" y="621.90" width="2.2" height="2.2" fill="#000"/>
<rect x="92.10" y="621.90" width="2.2" height="2.2" fill="#000"/>
<rect x="96.50" y="621.90" width="2.2" height="2.2" fill="#000"/>
<rect x="100.90" y="621.90" width="2.2" height="2.2" fill="#000"/>
<rect x="105.30" y="621.90" width="2.2" height="2.2" fill="#000"/>
<rect x="109.70" y="621.90" width="2.2" height="2.2" fill="#000"/>
<rect x="114.10" y="621.90" width="2.2" height="2.2" fill="#000"/>
<rect x="118.50" y="621.90" width="2.2" height="2.2" fill="#000"/>
<rect x="54.70" y="624.30" width="2.2" height="2.2" fill="#000"/>
<rect x="59.10" y="624.30" width="2.2" height="2.2" fill="#000"/>
<rect x="63.50" y="624.30" width="2.2" height="2.2" fill="#000"/>
<rect x="67.90" y="624.30" width="2.2" height="2.2" fill="#000"/>
<rect x="72.30" y="624.30" width="2.2" height="2.2" fill="#000"/>
<rect x="76.70" y="624.30" width="2.2" height="2.2" fill="#000"/>
<rect x="81.10" y="624.30" width="2.2" height="2.2" fill="#000"/>
<rect x="85.50" y="624.30" width="2.2" height="2.2" fill="#000"/>
<rect x="89.90" y="624.30" width="2.2" height="2.2" fill="#000"/>
<rect x="94.30" y="624.30" width="2.2" height="2.2" fill="#000"/>
<rect x="98.70" y="624.30" width="2.2" height="2.2" fill="#000"/>
<rect x="103.10" y="624.30" width="2.2" height="2.2" fill="#000"/>
<rect x="107.50" y="624.30" width="2.2" height="2.2" fill="#000"/>
<rect x="111.90" y="624.30" width="2.2" height="2.2" fill="#000"/>
<rect x="116.30" y="624.30" width="2.2" height="2.2" fill="#000"/>
<rect x="120.70" y="624.30" width="2.2" height="2.2" fill="#000"/>
<rect x="53.00" y="626.70" width="2.2" height="2.2" fill="#000"/>
<rect x="57.40" y="626.70" width="2.2" height="2.2" fill="#000"/>
<rect x="61.80" y="626.70" width="2.2" height="2.2" fill="#000"/>
<rect x="66.20" y="626.70" width="2.2" height="2.2" fill="#000"/>
<rect x="70.60" y="626.70" width="2.2" height="2.2" fill="#000"/>
<rect x="75.00" y="626.70" width="2.2" height="2.2" fill="#000"/>
<rect x="79.40" y="626.70" width="2.2" height="2.2" fill="#000"/>
<rect x="83.80" y="626.70" width="2.2" height="2.2" fill="#000"/>
<rect x="88.20" y="626.70" width="2.2" height="2.2" fill="#000"/>
<rect x="92.60" y="626.70" width="2.2" height="2.2" fill="#000"/>
<rect x="97.00" y="626.70" width="2.2" height="2.2" fill="#000"/>
<rect x="101.40" y="626.70" width="2.2" height="2.2" fill="#000"/>
<rect x="105.80" y="626.70" width="2.2" height="2.2" fill="#000"/>
<rect x="110.20" y="626.70" width="2.2" height="2.2" fill="#000"/>
<rect x="114.60" y="626.70" width="2.2" height="2.2" fill="#000"/>
<rect x="119.00" y="626.70" width="2.2" height="2.2" fill="#000"/>
<rect x="123.40" y="626.70" width="2.2" height="2.2" fill="#000"/>
<rect x="53.00" y="630.70" width="2.2" height="2.2" fill="#000"/>
<rect x="75.00" y="630.70" width="2.2" height="2.2" fill="#000"/>
<rect x="79.40" y="630.70" width="2.2" height="2.2" fill="#000"/>
<rect x="88.20" y="630.70" width="2.2" height="2.2" fill="#000"/>
<rect x="92.60" y="630.70" width="2.2" height="2.2" fill="#000"/>
<rect x="97.00" y="630.70" width="2.2" height="2.2" fill="#000"/>
<rect x="101.40" y="630.70" width="2.2" height="2.2" fill="#000"/>
<rect x="105.80" y="630.70" width="2.2" height="2.2" fill="#000"/>
<rect x="110.20" y="630.70" width="2.2" height="2.2" fill="#000"/>
<path d="M52.90,639.0 Q53.30,635.0 56.20,631.4" fill="none" stroke="#000" stroke-width="2.2"/>
<path d="M57.30,639.0 Q57.70,635.0 60.60,631.4" fill="none" stroke="#000" stroke-width="2.2"/>
<path d="M61.70,639.0 Q62.10,635.0 65.00,631.4" fill="none" stroke="#000" stroke-width="2.2"/>
<path d="M66.10,639.0 Q66.50,635.0 69.40,631.4" fill="none" stroke="#000" stroke-width="2.2"/>
<path d="M70.50,639.0 Q70.90,635.0 73.80,631.4" fill="none" stroke="#000" stroke-width="2.2"/>
<path d="M74.90,639.0 Q75.30,635.0 78.20,631.4" fill="none" stroke="#000" stroke-width="2.2"/>
<path d="M79.30,639.0 Q79.70,635.0 82.60,631.4" fill="none" stroke="#000" stroke-width="2.2"/>
<path d="M83.70,639.0 Q84.10,635.0 87.00,631.4" fill="none" stroke="#000" stroke-width="2.2"/>
<path d="M88.10,639.0 Q88.50,635.0 91.40,631.4" fill="none" stroke="#000" stroke-width="2.2"/>
<path d="M92.50,639.0 Q92.90,635.0 95.80,631.4" fill="none" stroke="#000" stroke-width="2.2"/>
<path d="M96.90,639.0 Q97.30,635.0 100.20,631.4" fill="none" stroke="#000" stroke-width="2.2"/>
<path d="M101.30,639.0 Q101.70,635.0 104.60,631.4" fill="none" stroke="#000" stroke-width="2.2"/>
<path d="M105.70,639.0 Q106.10,635.0 109.00,631.4" fill="none" stroke="#000" stroke-width="2.2"/>
<path d="M110.10,639.0 Q110.50,635.0 113.40,631.4" fill="none" stroke="#000" stroke-width="2.2"/>
<path d="M114.50,639.0 Q114.90,635.0 117.80,631.4" fill="none" stroke="#000" stroke-width="2.2"/>
<path d="M118.90,639.0 Q119.30,635.0 122.20,631.4" fill="none" stroke="#000" stroke-width="2.2"/>
<path d="M123.30,639.0 Q123.70,635.0 126.60,631.4" fill="none" stroke="#000" stroke-width="2.2"/>
<rect x="53.20" y="639.50" width="2.2" height="2.2" fill="#000"/>
<rect x="56.40" y="639.50" width="2.2" height="2.2" fill="#000"/>
<rect x="120.40" y="639.50" width="2.2" height="2.2" fill="#000"/>
<rect x="123.70" y="639.50" width="2.2" height="2.2" fill="#000"/>
<rect x="68.40" y="638.50" width="2.2" height="2.2" fill="#000"/>
<rect x="90.40" y="638.50" width="2.2" height="2.2" fill="#000"/>
<rect x="94.80" y="638.50" width="2.2" height="2.2" fill="#000"/>
<rect x="99.20" y="638.50" width="2.2" height="2.2" fill="#000"/>
<rect x="103.60" y="638.50" width="2.2" height="2.2" fill="#000"/>
<rect x="112.40" y="638.50" width="2.2" height="2.2" fill="#000"/>
<rect x="121.20" y="638.50" width="2.2" height="2.2" fill="#000"/>
<rect x="61.80" y="640.30" width="2.2" height="2.2" fill="#000"/>
<rect x="66.20" y="640.30" width="2.2" height="2.2" fill="#000"/>
<rect x="75.00" y="640.30" width="2.2" height="2.2" fill="#000"/>
<rect x="83.80" y="640.30" width="2.2" height="2.2" fill="#000"/>
<rect x="88.20" y="640.30" width="2.2" height="2.2" fill="#000"/>
<rect x="101.40" y="640.30" width="2.2" height="2.2" fill="#000"/>
<rect x="105.80" y="640.30" width="2.2" height="2.2" fill="#000"/>
<rect x="110.20" y="640.30" width="2.2" height="2.2" fill="#000"/>
<rect x="123.40" y="640.30" width="2.2" height="2.2" fill="#000"/>
<line x1="52.50" y1="629.90" x2="126.50" y2="629.90" stroke="#b4b4b4" stroke-width="1.6"/>
<rect x="88.10" y="515.60" width="2.2" height="2.2" fill="#000"/>
<rect x="88.10" y="520.70" width="2.2" height="2.2" fill="#000"/>
<rect x="88.10" y="538.10" width="2.2" height="2.2" fill="#000"/>
<rect x="88.50" y="581.40" width="2.2" height="2.2" fill="#000"/>
<rect x="84.30" y="596.20" width="2.2" height="2.2" fill="#000"/>
<rect x="92.70" y="596.20" width="2.2" height="2.2" fill="#000"/>
<rect x="88.10" y="598.80" width="2.2" height="2.2" fill="#000"/>
<rect x="84.30" y="604.10" width="2.2" height="2.2" fill="#000"/>
<rect x="88.10" y="604.10" width="2.2" height="2.2" fill="#000"/>
<rect x="92.70" y="604.10" width="2.2" height="2.2" fill="#000"/>
<rect x="96.60" y="604.10" width="2.2" height="2.2" fill="#000"/>
<rect x="79.40" y="606.50" width="2.2" height="2.2" fill="#000"/>
<rect x="84.30" y="608.10" width="2.2" height="2.2" fill="#000"/>
<rect x="88.40" y="608.10" width="2.2" height="2.2" fill="#000"/>
<rect x="92.70" y="608.10" width="2.2" height="2.2" fill="#000"/>
<rect x="66.00" y="609.60" width="2.2" height="2.2" fill="#000"/>
<rect x="70.40" y="609.60" width="2.2" height="2.2" fill="#000"/>
<rect x="74.30" y="609.60" width="2.2" height="2.2" fill="#000"/>
<rect x="79.40" y="609.60" width="2.2" height="2.2" fill="#000"/>
<rect x="84.00" y="609.60" width="2.2" height="2.2" fill="#000"/>
<rect x="89.20" y="609.60" width="2.2" height="2.2" fill="#000"/>
<rect x="96.90" y="609.60" width="2.2" height="2.2" fill="#000"/>
<rect x="101.90" y="609.60" width="2.2" height="2.2" fill="#000"/>
<rect x="106.10" y="609.60" width="2.2" height="2.2" fill="#000"/>
<rect x="110.40" y="609.60" width="2.2" height="2.2" fill="#000"/>
<rect x="79.40" y="611.90" width="2.2" height="2.2" fill="#000"/>
<rect x="84.30" y="611.90" width="2.2" height="2.2" fill="#000"/>
<rect x="88.10" y="611.90" width="2.2" height="2.2" fill="#000"/>
<rect x="92.70" y="611.90" width="2.2" height="2.2" fill="#000"/>
<rect x="96.60" y="611.90" width="2.2" height="2.2" fill="#000"/>
<rect x="79.40" y="614.20" width="2.2" height="2.2" fill="#000"/>
<rect x="88.10" y="614.20" width="2.2" height="2.2" fill="#000"/>
<rect x="96.60" y="614.40" width="2.2" height="2.2" fill="#000"/>
<rect x="96.60" y="615.90" width="2.2" height="2.2" fill="#000"/>
<rect x="92.70" y="615.40" width="2.2" height="2.2" fill="#000"/>
<rect x="70.40" y="618.10" width="2.2" height="2.2" fill="#000"/>
<rect x="84.30" y="618.10" width="2.2" height="2.2" fill="#000"/>
<rect x="88.10" y="618.10" width="2.2" height="2.2" fill="#000"/>
<rect x="92.70" y="618.10" width="2.2" height="2.2" fill="#000"/>
<rect x="105.90" y="618.10" width="2.2" height="2.2" fill="#000"/>
<rect x="74.30" y="621.20" width="2.2" height="2.2" fill="#000"/>
<rect x="79.40" y="621.20" width="2.2" height="2.2" fill="#000"/>
<rect x="96.90" y="621.20" width="2.2" height="2.2" fill="#000"/>
<rect x="101.40" y="621.20" width="2.2" height="2.2" fill="#000"/>
<rect x="109.90" y="621.20" width="2.2" height="2.2" fill="#000"/>
<rect x="114.20" y="621.20" width="2.2" height="2.2" fill="#000"/>
<rect x="198.60" y="599.70" width="2.2" height="2.2" fill="#000"/>
<rect x="189.70" y="606.60" width="2.2" height="2.2" fill="#000"/>
<rect x="194.30" y="606.60" width="2.2" height="2.2" fill="#000"/>
<rect x="198.60" y="606.60" width="2.2" height="2.2" fill="#000"/>
<rect x="203.50" y="606.60" width="2.2" height="2.2" fill="#000"/>
<rect x="194.30" y="609.70" width="2.2" height="2.2" fill="#000"/>
<rect x="207.40" y="609.70" width="2.2" height="2.2" fill="#000"/>
<rect x="198.60" y="612.70" width="2.2" height="2.2" fill="#000"/>
<rect x="203.50" y="612.70" width="2.2" height="2.2" fill="#000"/>
<rect x="216.10" y="615.50" width="2.2" height="2.2" fill="#000"/>
<rect x="163.20" y="619.80" width="2.2" height="2.2" fill="#000"/>
<rect x="167.70" y="619.80" width="2.2" height="2.2" fill="#000"/>
<rect x="172.20" y="619.80" width="2.2" height="2.2" fill="#000"/>
<rect x="176.70" y="619.80" width="2.2" height="2.2" fill="#000"/>
<rect x="163.20" y="625.60" width="2.2" height="2.2" fill="#000"/>
<rect x="167.70" y="625.60" width="2.2" height="2.2" fill="#000"/>
<rect x="172.20" y="625.60" width="2.2" height="2.2" fill="#000"/>
<rect x="176.70" y="625.60" width="2.2" height="2.2" fill="#000"/>
<rect x="163.20" y="630.50" width="2.2" height="2.2" fill="#000"/>
<rect x="167.70" y="630.50" width="2.2" height="2.2" fill="#000"/>
<rect x="172.20" y="630.50" width="2.2" height="2.2" fill="#000"/>
<rect x="176.70" y="630.50" width="2.2" height="2.2" fill="#000"/>
<rect x="165.50" y="628.80" width="2.2" height="2.2" fill="#000"/>
<rect x="169.95" y="628.80" width="2.2" height="2.2" fill="#000"/>
<rect x="174.40" y="628.80" width="2.2" height="2.2" fill="#000"/>
<rect x="178.85" y="628.80" width="2.2" height="2.2" fill="#000"/>
<rect x="165.50" y="633.10" width="2.2" height="2.2" fill="#000"/>
<rect x="169.95" y="633.10" width="2.2" height="2.2" fill="#000"/>
<rect x="174.40" y="633.10" width="2.2" height="2.2" fill="#000"/>
<rect x="178.85" y="633.10" width="2.2" height="2.2" fill="#000"/>
<rect x="180.80" y="617.10" width="2.2" height="2.2" fill="#000"/>
<rect x="185.25" y="617.10" width="2.2" height="2.2" fill="#000"/>
<rect x="189.70" y="617.10" width="2.2" height="2.2" fill="#000"/>
<rect x="194.15" y="617.10" width="2.2" height="2.2" fill="#000"/>
<rect x="198.60" y="617.10" width="2.2" height="2.2" fill="#000"/>
<rect x="203.05" y="617.10" width="2.2" height="2.2" fill="#000"/>
<rect x="207.50" y="617.10" width="2.2" height="2.2" fill="#000"/>
<rect x="211.95" y="617.10" width="2.2" height="2.2" fill="#000"/>
<rect x="216.40" y="617.10" width="2.2" height="2.2" fill="#000"/>
<rect x="180.80" y="621.30" width="2.2" height="2.2" fill="#000"/>
<rect x="185.25" y="621.30" width="2.2" height="2.2" fill="#000"/>
<rect x="189.70" y="621.30" width="2.2" height="2.2" fill="#000"/>
<rect x="194.15" y="621.30" width="2.2" height="2.2" fill="#000"/>
<rect x="198.60" y="621.30" width="2.2" height="2.2" fill="#000"/>
<rect x="203.05" y="621.30" width="2.2" height="2.2" fill="#000"/>
<rect x="207.50" y="621.30" width="2.2" height="2.2" fill="#000"/>
<rect x="211.95" y="621.30" width="2.2" height="2.2" fill="#000"/>
<rect x="216.40" y="621.30" width="2.2" height="2.2" fill="#000"/>
<rect x="180.80" y="632.50" width="2.2" height="2.2" fill="#000"/>
<rect x="185.25" y="632.50" width="2.2" height="2.2" fill="#000"/>
<rect x="189.70" y="632.50" width="2.2" height="2.2" fill="#000"/>
<rect x="194.15" y="632.50" width="2.2" height="2.2" fill="#000"/>
<rect x="198.60" y="632.50" width="2.2" height="2.2" fill="#000"/>
<rect x="203.05" y="632.50" width="2.2" height="2.2" fill="#000"/>
<rect x="207.50" y="632.50" width="2.2" height="2.2" fill="#000"/>
<rect x="211.95" y="632.50" width="2.2" height="2.2" fill="#000"/>
<rect x="216.40" y="632.50" width="2.2" height="2.2" fill="#000"/>
<rect x="183.00" y="623.60" width="2.2" height="2.2" fill="#000"/>
<rect x="187.45" y="623.60" width="2.2" height="2.2" fill="#000"/>
<rect x="191.90" y="623.60" width="2.2" height="2.2" fill="#000"/>
<rect x="196.35" y="623.60" width="2.2" height="2.2" fill="#000"/>
<rect x="200.80" y="623.60" width="2.2" height="2.2" fill="#000"/>
<rect x="205.25" y="623.60" width="2.2" height="2.2" fill="#000"/>
<rect x="209.70" y="623.60" width="2.2" height="2.2" fill="#000"/>
<rect x="214.15" y="623.60" width="2.2" height="2.2" fill="#000"/>
<line x1="182.20" y1="632.00" x2="186.00" y2="626.20" stroke="#000" stroke-width="1.9"/>
<line x1="186.65" y1="632.00" x2="190.45" y2="626.20" stroke="#000" stroke-width="1.9"/>
<line x1="191.10" y1="632.00" x2="194.90" y2="626.20" stroke="#000" stroke-width="1.9"/>
<line x1="195.55" y1="632.00" x2="199.35" y2="626.20" stroke="#000" stroke-width="1.9"/>
<line x1="200.00" y1="626.20" x2="203.80" y2="632.00" stroke="#000" stroke-width="1.9"/>
<line x1="204.45" y1="626.20" x2="208.25" y2="632.00" stroke="#000" stroke-width="1.9"/>
<line x1="208.90" y1="626.20" x2="212.70" y2="632.00" stroke="#000" stroke-width="1.9"/>
<line x1="213.35" y1="626.20" x2="217.15" y2="632.00" stroke="#000" stroke-width="1.9"/>
<rect x="220.70" y="621.00" width="2.2" height="2.2" fill="#000"/>
<rect x="225.10" y="621.00" width="2.2" height="2.2" fill="#000"/>
<rect x="229.50" y="621.00" width="2.2" height="2.2" fill="#000"/>
<rect x="233.90" y="621.00" width="2.2" height="2.2" fill="#000"/>
<rect x="220.70" y="625.30" width="2.2" height="2.2" fill="#000"/>
<rect x="225.10" y="625.30" width="2.2" height="2.2" fill="#000"/>
<rect x="229.50" y="625.30" width="2.2" height="2.2" fill="#000"/>
<rect x="233.90" y="625.30" width="2.2" height="2.2" fill="#000"/>
<rect x="220.70" y="630.80" width="2.2" height="2.2" fill="#000"/>
<rect x="225.10" y="630.80" width="2.2" height="2.2" fill="#000"/>
<rect x="229.50" y="630.80" width="2.2" height="2.2" fill="#000"/>
<rect x="233.90" y="630.80" width="2.2" height="2.2" fill="#000"/>
<rect x="222.90" y="629.30" width="2.2" height="2.2" fill="#000"/>
<rect x="227.30" y="629.30" width="2.2" height="2.2" fill="#000"/>
<rect x="231.70" y="629.30" width="2.2" height="2.2" fill="#000"/>
<rect x="222.90" y="633.10" width="2.2" height="2.2" fill="#000"/>
<rect x="227.30" y="633.10" width="2.2" height="2.2" fill="#000"/>
<rect x="231.70" y="633.10" width="2.2" height="2.2" fill="#000"/>
<line x1="163.00" y1="635.70" x2="237.00" y2="635.70" stroke="#b0b0b0" stroke-width="1.7"/>
<rect x="163.30" y="637.10" width="2.10" height="3.20" fill="#000"/>
<rect x="167.74" y="637.10" width="2.10" height="3.20" fill="#000"/>
<rect x="172.18" y="637.10" width="2.10" height="3.20" fill="#000"/>
<rect x="176.62" y="637.10" width="2.10" height="3.20" fill="#000"/>
<rect x="181.06" y="637.10" width="2.10" height="3.20" fill="#000"/>
<rect x="185.50" y="637.10" width="2.10" height="3.20" fill="#000"/>
<rect x="189.94" y="637.10" width="2.10" height="3.20" fill="#000"/>
<rect x="194.38" y="637.10" width="2.10" height="3.20" fill="#000"/>
<rect x="198.82" y="637.10" width="2.10" height="3.20" fill="#000"/>
<rect x="203.26" y="637.10" width="2.10" height="3.20" fill="#000"/>
<rect x="207.70" y="637.10" width="2.10" height="3.20" fill="#000"/>
<rect x="212.14" y="637.10" width="2.10" height="3.20" fill="#000"/>
<rect x="216.58" y="637.10" width="2.10" height="3.20" fill="#000"/>
<rect x="221.02" y="637.10" width="2.10" height="3.20" fill="#000"/>
<rect x="225.46" y="637.10" width="2.10" height="3.20" fill="#000"/>
<rect x="229.90" y="637.10" width="2.10" height="3.20" fill="#000"/>
<rect x="234.34" y="637.10" width="2.10" height="3.20" fill="#000"/>
<text transform="translate(89.40,656.70) rotate(-45)" font-size="12.6" font-weight="bold" text-anchor="end" stroke="#000" stroke-width="0.35" >NRS + G-CSF</text>
<text transform="translate(208.90,660.20) rotate(-45)" font-size="12.6" font-weight="bold" text-anchor="end" stroke="#000" stroke-width="0.35" >&#945;Cxcr2 + G-CSF</text>
<line x1="301.90" y1="496.04" x2="301.90" y2="643.70" stroke="#333" stroke-width="1.7"/>
<line x1="297.50" y1="643.00" x2="520.00" y2="643.00" stroke="#333" stroke-width="1.7"/>
<line x1="298.00" y1="643.00" x2="301.90" y2="643.00" stroke="#333" stroke-width="1.2"/>
<text x="296.50" y="647.60" font-size="13" font-weight="bold" text-anchor="end" fill="#000" stroke="#000" stroke-width="0.35" >0</text>
<line x1="298.00" y1="606.41" x2="301.90" y2="606.41" stroke="#333" stroke-width="1.2"/>
<text x="296.50" y="611.01" font-size="13" font-weight="bold" text-anchor="end" fill="#000" stroke="#000" stroke-width="0.35" >20</text>
<line x1="298.00" y1="569.82" x2="301.90" y2="569.82" stroke="#333" stroke-width="1.2"/>
<text x="296.50" y="574.42" font-size="13" font-weight="bold" text-anchor="end" fill="#000" stroke="#000" stroke-width="0.35" >40</text>
<line x1="298.00" y1="533.23" x2="301.90" y2="533.23" stroke="#333" stroke-width="1.2"/>
<text x="296.50" y="537.83" font-size="13" font-weight="bold" text-anchor="end" fill="#000" stroke="#000" stroke-width="0.35" >60</text>
<line x1="298.00" y1="496.64" x2="301.90" y2="496.64" stroke="#333" stroke-width="1.2"/>
<text x="296.50" y="501.24" font-size="13" font-weight="bold" text-anchor="end" fill="#000" stroke="#000" stroke-width="0.35" >80</text>
<text transform="translate(275.90,566.50) rotate(-90)" font-size="12.3" font-weight="bold" text-anchor="middle" stroke="#000" stroke-width="0.35" >activity (%)</text>
<rect x="352.60" y="521.40" width="6.00" height="6.00" fill="#000"/>
<rect x="352.60" y="551.90" width="6.00" height="6.00" fill="#000"/>
<rect x="352.60" y="576.40" width="6.00" height="6.00" fill="#000"/>
<rect x="361.30" y="594.80" width="6.00" height="6.00" fill="#000"/>
<rect x="352.60" y="601.00" width="6.00" height="6.00" fill="#000"/>
<line x1="319.90" y1="572.20" x2="392.20" y2="572.20" stroke="#000" stroke-width="2"/>
<circle cx="476.20" cy="561.00" r="2.5" fill="#000" stroke="none" stroke-width="0"/>
<circle cx="476.20" cy="575.50" r="2.5" fill="#000" stroke="none" stroke-width="0"/>
<circle cx="476.20" cy="585.50" r="2.5" fill="#000" stroke="none" stroke-width="0"/>
<circle cx="476.20" cy="624.40" r="2.5" fill="#000" stroke="none" stroke-width="0"/>
<circle cx="476.20" cy="636.00" r="2.5" fill="#000" stroke="none" stroke-width="0"/>
<line x1="440.30" y1="597.10" x2="513.00" y2="597.10" stroke="#000" stroke-width="2"/>
<text x="418.30" y="496.00" font-size="12.5" font-weight="normal" text-anchor="middle" fill="#000" >ns</text>
<line x1="357.10" y1="499.50" x2="474.80" y2="499.50" stroke="#000" stroke-width="1.8"/>
<text transform="translate(365.80,657.80) rotate(-45)" font-size="12.6" font-weight="bold" text-anchor="end" stroke="#000" stroke-width="0.35" >NRS + G-CSF</text>
<text transform="translate(486.60,660.80) rotate(-45)" font-size="12.6" font-weight="bold" text-anchor="end" stroke="#000" stroke-width="0.35" >&#945;Cxcr2 + G-CSF</text>
</svg>
</body></html>
